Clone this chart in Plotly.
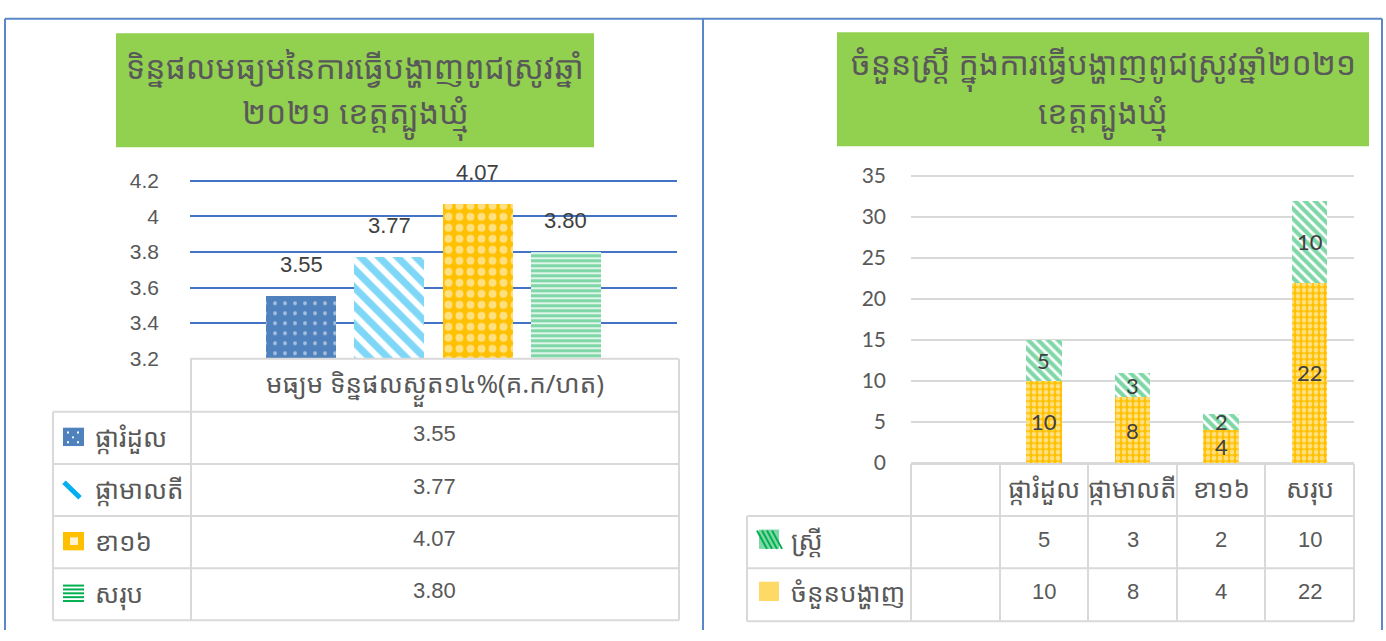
import plotly.graph_objects as go

W, H = 1386, 641

# ---------------- data ----------------
yield_title = ["ទិន្នផលមធ្យមនៃការធ្វើបង្ហាញពូជស្រូវឆ្នាំ", "២០២១ ខេត្តត្បូងឃ្មុំ"]
yield_series = ["ផ្ការំដួល", "ផ្កាមាលតី", "ខា១៦", "សរុប"]
yield_values = [3.55, 3.77, 4.07, 3.80]
yield_header = "មធ្យម ទិន្នផលស្ងួត១៤%(គ.ក/ហត)"
yield_tickvals = [3.2, 3.4, 3.6, 3.8, 4.0, 4.2]
yield_ticktext = ["3.2", "3.4", "3.6", "3.8", "4", "4.2"]

women_title = ["ចំនួនស្ត្រី ក្នុងការធ្វើបង្ហាញពូជស្រូវឆ្នាំ២០២១", "ខេត្តត្បូងឃ្មុំ"]
demo_categories = [" ", "ផ្ការំដួល", "ផ្កាមាលតី", "ខា១៦", "សរុប"]
demo_series = ["ស្ត្រី", "ចំនួនបង្ហាញ"]
women_values = [None, 5, 3, 2, 10]
demo_values = [None, 10, 8, 4, 22]
women_tickvals = [0, 5, 10, 15, 20, 25, 30, 35]

# ---------------- style ----------------
KH = "Noto Sans Khmer, Khmer OS, Khmer OS System, Noto Sans, DejaVu Sans, sans-serif"
AR = "Liberation Sans, Arial, sans-serif"
CA = "Lato, Liberation Sans, sans-serif"
GREY = "#595959"
DARK = "#404040"
LINE = "#D9D9D9"
BORDER = "#5B87C8"

yield_styles = [
    dict(shape=".", fgcolor="white", bgcolor="#4F81BD", size=10, solidity=0.12),
    dict(shape="\\", fgcolor="#00B0F0", bgcolor="white", size=13, solidity=0.55),
    dict(shape=".", fgcolor="white", bgcolor="#FFC000", size=11, solidity=0.4),
    dict(shape="-", fgcolor="#00B050", bgcolor="white", size=5, solidity=0.7),
]
demo_styles = {
    "ស្ត្រី": dict(shape="\\", fgcolor="#00B050", bgcolor="white", size=7, solidity=0.6),
    "ចំនួនបង្ហាញ": dict(shape=".", fgcolor="white", bgcolor="#FFC000", size=6, solidity=0.5),
}


def px(x):
    return x / W


def py(y):
    return 1 - y / H


fig = go.Figure()

for name, val, st in zip(yield_series, yield_values, yield_styles):
    fig.add_trace(go.Bar(
        x=[name], y=[val], xaxis="x", yaxis="y", width=0.79,
        marker=dict(color=st["bgcolor"], line=dict(width=0), pattern=st),
        showlegend=False, hoverinfo="skip",
    ))

fig.add_trace(go.Bar(
    x=demo_categories, y=demo_values, xaxis="x2", yaxis="y2", width=0.4,
    marker=dict(color="#FFC000", line=dict(width=0), pattern=demo_styles["ចំនួនបង្ហាញ"]),
    showlegend=False, hoverinfo="skip",
))
fig.add_trace(go.Bar(
    x=demo_categories, y=women_values, xaxis="x2", yaxis="y2", width=0.4,
    marker=dict(color="#00B050", line=dict(width=0), pattern=demo_styles["ស្ត្រី"]),
    showlegend=False, hoverinfo="skip",
))

ann = []
shapes = []


def text(x, y, s, font, xref="paper", yref="paper", xanchor="center", **kw):
    d = dict(x=x, y=y, xref=xref, yref=yref, text=s, showarrow=False,
             xanchor=xanchor, yanchor="middle", font=font)
    d.update(kw)
    ann.append(d)


for name, val in zip(yield_series, yield_values):
    text(name, val, f"{val:.2f}", dict(family=AR, size=22, color=DARK), xref="x", yref="y", yshift=32)

for cat, d, w in zip(demo_categories, demo_values, women_values):
    if d is None:
        continue
    text(cat, d / 2, str(d), dict(family=CA, size=22, color=DARK), xref="x2", yref="y2")
    text(cat, d + w / 2, str(w), dict(family=CA, size=22, color=DARK), xref="x2", yref="y2")

shapes.append(dict(type="rect", xref="paper", yref="paper", x0=px(116), x1=px(594),
                   y0=py(141), y1=py(23), fillcolor="#92D050", line=dict(width=0), layer="below"))
shapes.append(dict(type="rect", xref="paper", yref="paper", x0=px(837), x1=px(1369),
                   y0=py(140), y1=py(22), fillcolor="#92D050", line=dict(width=0), layer="below"))
for line, yc in zip(yield_title, [57, 108]):
    text(px(355), py(yc), line, dict(family=KH, size=32, color=GREY))
for line, yc in zip(women_title, [57, 108]):
    text(px(1103), py(yc), line, dict(family=KH, size=32, color=GREY))


def hline(x0, x1, y, color=LINE, width=2):
    shapes.append(dict(type="line", xref="paper", yref="paper", x0=px(x0), x1=px(x1),
                       y0=py(y), y1=py(y), line=dict(color=color, width=width)))


def vline(x, y0, y1, color=LINE, width=2):
    shapes.append(dict(type="line", xref="paper", yref="paper", x0=px(x), x1=px(x),
                       y0=py(y0), y1=py(y1), line=dict(color=color, width=width)))


hline(190, 679, 360)
for y in [415, 469, 523, 577, 631]:
    hline(53, 679, y)
vline(53, 415, 631)
vline(191, 360, 631)
vline(679, 360, 631)
text(px(435), py(388), yield_header, dict(family=KH, size=26, color=GREY))
row_y = [441, 495, 549, 603]
for name, val, yc in zip(yield_series, yield_values, row_y):
    text(px(435), py(yc - 3), f"{val:.2f}", dict(family=AR, size=22, color=GREY))
    text(px(93), py(yc), name, dict(family=KH, size=26, color=GREY), xanchor="left")


def key_rect(x0, yc, fill, w=21, h=19):
    shapes.append(dict(type="rect", xref="paper", yref="paper", x0=px(x0), x1=px(x0 + w),
                       y0=py(yc + h / 2), y1=py(yc - h / 2), fillcolor=fill, line=dict(width=0)))


key_rect(63, row_y[0], "#4F81BD")
for dx, dy in [(4, 4), (14, 4), (9, 9), (4, 14), (14, 14)]:
    shapes.append(dict(type="rect", xref="paper", yref="paper", x0=px(63 + dx), x1=px(65 + dx),
                       y0=py(row_y[0] - 9.5 + dy + 2), y1=py(row_y[0] - 9.5 + dy), fillcolor="white",
                       line=dict(width=0)))
shapes.append(dict(type="line", xref="paper", yref="paper", x0=px(64), x1=px(80),
                   y0=py(row_y[1] - 7), y1=py(row_y[1] + 9), line=dict(color="#00B0F0", width=5)))
key_rect(63, row_y[2], "#FFC000")
shapes.append(dict(type="rect", xref="paper", yref="paper", x0=px(70), x1=px(78),
                   y0=py(row_y[2] + 4), y1=py(row_y[2] - 4), fillcolor="#FFF2CC", line=dict(width=0)))
for k in range(5):
    hline(63, 84, row_y[3] - 8 + 4 * k, color="#00B050", width=2)

for y in [523, 577, 632]:
    hline(747, 1354, y)
hline(911, 1354, 469)
vline(747, 523, 632)
for x in [911, 1000, 1088, 1177, 1265, 1354]:
    vline(x, 469, 632)
for cat in demo_categories[1:]:
    text(cat, py(494), cat, dict(family=KH, size=26, color=GREY), xref="x2")
rrow_y = [548, 602]
for vals, yc in zip([women_values, demo_values], rrow_y):
    for cat, v in zip(demo_categories, vals):
        if v is None:
            continue
        text(cat, py(yc - 1), str(v), dict(family=AR, size=22, color=GREY), xref="x2")
for name, yc in zip(demo_series, rrow_y):
    text(px(789), py(yc), name, dict(family=KH, size=26, color=GREY), xanchor="left")
key_rect(759, rrow_y[0] - 1, "#7FD7A7", w=20, h=20)
for k in range(4):
    shapes.append(dict(type="line", xref="paper", yref="paper", x0=px(759 + 5 * k - 2), x1=px(759 + 5 * k + 8),
                       y0=py(rrow_y[0] - 10), y1=py(rrow_y[0] + 9), line=dict(color="#00B050", width=2)))
key_rect(759, rrow_y[1] - 1, "#FFD966", w=20, h=20)

hline(5, 1382, 8, color=BORDER, width=2)
vline(5, 8, 641, color=BORDER, width=2)
vline(703, 8, 641, color=BORDER, width=2)
vline(1382, 8, 641, color=BORDER, width=2)

y1_pad = 0.015
y2_pad = 0.35
fig.update_layout(
    width=W, height=H,
    margin=dict(l=0, r=0, t=0, b=0),
    paper_bgcolor="white", plot_bgcolor="rgba(0,0,0,0)",
    barmode="stack",
    showlegend=False,
    xaxis=dict(domain=[px(190), px(677)], anchor="y", type="category",
               categoryorder="array", categoryarray=yield_series,
               range=[-1.258, 4.258], showticklabels=False, showgrid=False,
               zeroline=False, showline=False),
    yaxis=dict(domain=[py(360), py(176 - 185 * y1_pad)], anchor="x",
               range=[3.2, 4.2 + y1_pad],
               tickvals=yield_tickvals, ticktext=yield_ticktext,
               gridcolor="#4472C4", gridwidth=2, zeroline=False, showline=False,
               ticks="", ticklabelstandoff=30,
               tickfont=dict(family=AR, size=21, color=GREY)),
    xaxis2=dict(domain=[px(911), px(1354)], anchor="y2", type="category",
                categoryorder="array", categoryarray=demo_categories,
                range=[-0.5, 4.5], showticklabels=False, showgrid=False,
                zeroline=False, showline=False),
    yaxis2=dict(domain=[py(468), py(171 - 8.5 * y2_pad)], anchor="x2", range=[0, 35 + y2_pad],
                tickvals=women_tickvals, gridcolor=LINE, gridwidth=2,
                zeroline=True, zerolinecolor=LINE, zerolinewidth=2, showline=False,
                ticks="", ticklabelstandoff=24,
                tickfont=dict(family=CA, size=21, color=GREY)),
    annotations=ann,
    shapes=shapes,
)

fig.write_html(
    "out.html",
    config={"displayModeBar": False},
    post_script="document.body.style.margin='0px';document.documentElement.style.overflow='hidden';",
)
